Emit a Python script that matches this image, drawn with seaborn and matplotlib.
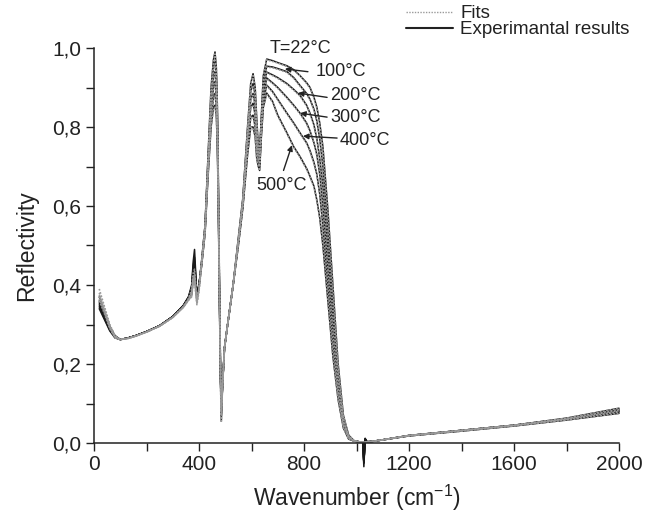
import matplotlib
matplotlib.use("Agg")
import matplotlib.pyplot as plt
import seaborn as sns
import numpy as np
from matplotlib.lines import Line2D
from matplotlib.ticker import MultipleLocator, FuncFormatter

# ---------------- data ----------------
wavenumber = [20, 40, 60, 80, 100, 130, 160, 200, 250, 300, 340, 360, 372, 378, 383, 392,
              400, 410, 423, 434, 446, 455, 461, 466, 470, 474, 478, 482, 485,
              490, 497, 507, 530, 550, 567, 585, 597, 606, 614, 620, 626, 631, 637, 645, 658,
              680, 700, 735, 761, 785, 810, 823, 838, 849, 860, 872, 891, 910, 930, 950, 970,
              990, 1010, 1024, 1028, 1033, 1040, 1060, 1100, 1200, 1400, 1600, 1800, 2000]

temperatures = ["22", "100", "200", "300", "400", "500"]

exp_22 = [0.37, 0.33, 0.295, 0.272, 0.262, 0.266, 0.272, 0.282, 0.297, 0.32, 0.348, 0.37, 0.40, 0.46, 0.49, 0.37,
          0.40, 0.46, 0.55, 0.72, 0.90, 0.97, 0.99, 0.95, 0.85, 0.65, 0.40, 0.18, 0.07,
          0.15, 0.24, 0.29, 0.40, 0.52, 0.62, 0.80, 0.91, 0.935, 0.90, 0.82, 0.75, 0.74, 0.82, 0.93, 0.972,
          0.968, 0.963, 0.955, 0.945, 0.93, 0.912, 0.90, 0.875, 0.85, 0.81, 0.75, 0.59, 0.40, 0.20, 0.07, 0.02,
          0.006, 0.003, 0.002, -0.06, 0.012, 0.003, 0.004, 0.008, 0.019, 0.032, 0.045, 0.063, 0.088]
exp_100 = [0.36, 0.325, 0.292, 0.27, 0.262, 0.266, 0.272, 0.282, 0.297, 0.32, 0.348, 0.37, 0.395, 0.45, 0.47, 0.375,
           0.40, 0.46, 0.55, 0.71, 0.88, 0.95, 0.965, 0.93, 0.83, 0.63, 0.39, 0.18, 0.075,
           0.15, 0.24, 0.29, 0.40, 0.515, 0.615, 0.79, 0.89, 0.91, 0.88, 0.80, 0.74, 0.73, 0.81, 0.91, 0.954,
           0.952, 0.948, 0.94, 0.925, 0.905, 0.885, 0.87, 0.845, 0.815, 0.77, 0.70, 0.54, 0.36, 0.18, 0.062, 0.018,
           0.006, 0.003, 0.002, -0.05, 0.01, 0.003, 0.004, 0.008, 0.019, 0.032, 0.045, 0.062, 0.085]
exp_200 = [0.355, 0.32, 0.29, 0.27, 0.262, 0.266, 0.272, 0.282, 0.297, 0.32, 0.347, 0.368, 0.39, 0.44, 0.46, 0.375,
           0.40, 0.455, 0.545, 0.70, 0.86, 0.925, 0.94, 0.905, 0.81, 0.62, 0.38, 0.17, 0.08,
           0.15, 0.24, 0.29, 0.40, 0.51, 0.61, 0.775, 0.87, 0.885, 0.855, 0.78, 0.73, 0.72, 0.80, 0.895, 0.939,
           0.932, 0.925, 0.91, 0.895, 0.88, 0.855, 0.835, 0.805, 0.77, 0.72, 0.65, 0.49, 0.32, 0.16, 0.055, 0.016,
           0.005, 0.003, 0.002, -0.05, 0.01, 0.003, 0.004, 0.008, 0.019, 0.032, 0.045, 0.061, 0.082]
exp_300 = [0.35, 0.318, 0.288, 0.268, 0.262, 0.266, 0.272, 0.282, 0.297, 0.32, 0.347, 0.367, 0.385, 0.435, 0.45, 0.37,
           0.40, 0.455, 0.54, 0.69, 0.84, 0.90, 0.915, 0.88, 0.79, 0.60, 0.37, 0.17, 0.085,
           0.15, 0.24, 0.29, 0.40, 0.51, 0.605, 0.76, 0.85, 0.86, 0.83, 0.76, 0.72, 0.71, 0.79, 0.88, 0.924,
           0.912, 0.90, 0.875, 0.855, 0.835, 0.81, 0.79, 0.76, 0.73, 0.68, 0.60, 0.44, 0.28, 0.14, 0.048, 0.014,
           0.005, 0.003, 0.002, -0.05, 0.01, 0.003, 0.004, 0.008, 0.019, 0.031, 0.044, 0.06, 0.08]
exp_400 = [0.345, 0.315, 0.286, 0.267, 0.262, 0.266, 0.272, 0.282, 0.297, 0.32, 0.346, 0.366, 0.38, 0.43, 0.44, 0.37,
           0.40, 0.45, 0.535, 0.68, 0.82, 0.875, 0.885, 0.855, 0.77, 0.59, 0.36, 0.16, 0.09,
           0.15, 0.24, 0.29, 0.40, 0.505, 0.60, 0.745, 0.825, 0.83, 0.80, 0.74, 0.71, 0.70, 0.78, 0.865, 0.906,
           0.89, 0.87, 0.835, 0.81, 0.785, 0.76, 0.74, 0.71, 0.68, 0.63, 0.55, 0.40, 0.25, 0.12, 0.043, 0.012,
           0.005, 0.003, 0.002, -0.05, 0.01, 0.003, 0.004, 0.008, 0.018, 0.031, 0.044, 0.059, 0.078]
exp_500 = [0.34, 0.312, 0.284, 0.266, 0.262, 0.266, 0.272, 0.282, 0.297, 0.32, 0.346, 0.365, 0.375, 0.42, 0.43, 0.365,
           0.395, 0.45, 0.53, 0.67, 0.80, 0.85, 0.855, 0.83, 0.75, 0.58, 0.35, 0.15, 0.055,
           0.15, 0.24, 0.29, 0.40, 0.50, 0.595, 0.73, 0.80, 0.80, 0.775, 0.72, 0.70, 0.69, 0.77, 0.85, 0.886,
           0.865, 0.83, 0.785, 0.75, 0.725, 0.695, 0.675, 0.65, 0.615, 0.57, 0.50, 0.36, 0.22, 0.11, 0.038, 0.01,
           0.005, 0.003, 0.002, -0.05, 0.01, 0.003, 0.004, 0.008, 0.018, 0.03, 0.043, 0.058, 0.075]

fit_22 = [0.39, 0.345, 0.30, 0.272, 0.262, 0.265, 0.271, 0.281, 0.296, 0.318, 0.345, 0.365, 0.39, 0.43, 0.44, 0.36,
          0.39, 0.46, 0.55, 0.72, 0.90, 0.965, 0.985, 0.95, 0.85, 0.65, 0.40, 0.18, 0.07,
          0.15, 0.24, 0.29, 0.40, 0.52, 0.62, 0.80, 0.91, 0.93, 0.90, 0.82, 0.75, 0.74, 0.82, 0.93, 0.97,
          0.966, 0.962, 0.953, 0.943, 0.93, 0.91, 0.898, 0.873, 0.848, 0.808, 0.75, 0.59, 0.40, 0.20, 0.07, 0.02,
          0.006, 0.003, 0.002, 0.002, 0.002, 0.003, 0.004, 0.008, 0.019, 0.032, 0.045, 0.063, 0.088]
fit_100 = [0.38, 0.34, 0.298, 0.27, 0.262, 0.265, 0.271, 0.281, 0.296, 0.318, 0.345, 0.365, 0.385, 0.425, 0.43, 0.36,
           0.39, 0.46, 0.55, 0.71, 0.88, 0.945, 0.96, 0.93, 0.83, 0.63, 0.39, 0.18, 0.075,
           0.15, 0.24, 0.29, 0.40, 0.515, 0.615, 0.79, 0.89, 0.905, 0.88, 0.80, 0.74, 0.73, 0.81, 0.91, 0.952,
           0.95, 0.946, 0.938, 0.923, 0.903, 0.883, 0.868, 0.843, 0.813, 0.77, 0.70, 0.54, 0.36, 0.18, 0.062, 0.018,
           0.006, 0.003, 0.002, 0.002, 0.002, 0.003, 0.004, 0.008, 0.019, 0.032, 0.045, 0.062, 0.085]
fit_200 = [0.375, 0.337, 0.296, 0.27, 0.262, 0.265, 0.271, 0.281, 0.296, 0.318, 0.344, 0.364, 0.38, 0.42, 0.425, 0.36,
           0.39, 0.455, 0.545, 0.70, 0.86, 0.92, 0.935, 0.905, 0.81, 0.62, 0.38, 0.17, 0.08,
           0.15, 0.24, 0.29, 0.40, 0.51, 0.61, 0.775, 0.87, 0.88, 0.855, 0.78, 0.73, 0.72, 0.80, 0.895, 0.937,
           0.93, 0.923, 0.908, 0.893, 0.878, 0.853, 0.833, 0.803, 0.768, 0.72, 0.65, 0.49, 0.32, 0.16, 0.055, 0.016,
           0.005, 0.003, 0.002, 0.002, 0.002, 0.003, 0.004, 0.008, 0.019, 0.032, 0.045, 0.061, 0.082]
fit_300 = [0.37, 0.334, 0.294, 0.268, 0.262, 0.265, 0.271, 0.281, 0.296, 0.318, 0.344, 0.363, 0.375, 0.415, 0.42, 0.355,
           0.39, 0.455, 0.54, 0.69, 0.84, 0.895, 0.91, 0.88, 0.79, 0.60, 0.37, 0.17, 0.085,
           0.15, 0.24, 0.29, 0.40, 0.51, 0.605, 0.76, 0.85, 0.855, 0.83, 0.76, 0.72, 0.71, 0.79, 0.88, 0.922,
           0.91, 0.898, 0.873, 0.853, 0.833, 0.808, 0.788, 0.758, 0.728, 0.68, 0.60, 0.44, 0.28, 0.14, 0.048, 0.014,
           0.005, 0.003, 0.002, 0.002, 0.002, 0.003, 0.004, 0.008, 0.019, 0.031, 0.044, 0.06, 0.08]
fit_400 = [0.365, 0.33, 0.292, 0.267, 0.262, 0.265, 0.271, 0.281, 0.296, 0.318, 0.343, 0.362, 0.372, 0.41, 0.415, 0.355,
           0.39, 0.45, 0.535, 0.68, 0.82, 0.87, 0.88, 0.855, 0.77, 0.59, 0.36, 0.16, 0.09,
           0.15, 0.24, 0.29, 0.40, 0.505, 0.60, 0.745, 0.825, 0.825, 0.80, 0.74, 0.71, 0.70, 0.78, 0.865, 0.904,
           0.888, 0.868, 0.833, 0.808, 0.783, 0.758, 0.738, 0.708, 0.678, 0.63, 0.55, 0.40, 0.25, 0.12, 0.043, 0.012,
           0.005, 0.003, 0.002, 0.002, 0.002, 0.003, 0.004, 0.008, 0.018, 0.031, 0.044, 0.059, 0.078]
fit_500 = [0.36, 0.327, 0.29, 0.266, 0.262, 0.265, 0.271, 0.281, 0.296, 0.318, 0.343, 0.361, 0.37, 0.405, 0.41, 0.35,
           0.385, 0.45, 0.53, 0.67, 0.80, 0.845, 0.85, 0.83, 0.75, 0.58, 0.35, 0.15, 0.055,
           0.15, 0.24, 0.29, 0.40, 0.50, 0.595, 0.73, 0.80, 0.795, 0.775, 0.72, 0.70, 0.69, 0.77, 0.85, 0.884,
           0.863, 0.828, 0.783, 0.748, 0.723, 0.693, 0.673, 0.648, 0.613, 0.57, 0.50, 0.36, 0.22, 0.11, 0.038, 0.01,
           0.005, 0.003, 0.002, 0.002, 0.002, 0.003, 0.004, 0.008, 0.018, 0.03, 0.043, 0.058, 0.075]

exp_series = [exp_22, exp_100, exp_200, exp_300, exp_400, exp_500]
fit_series = [fit_22, fit_100, fit_200, fit_300, fit_400, fit_500]

# annotation labels
label_texts = ["100°C", "200°C", "300°C", "400°C", "500°C"]
label_pos = [(940, 0.94), (995, 0.88), (997, 0.823), (1032, 0.767), (715, 0.653)]
arrow_from = [(815, 0.94), (888, 0.875), (888, 0.825), (926, 0.772), (722, 0.69)]
arrow_to = [(727, 0.947), (777, 0.886), (785, 0.835), (796, 0.777), (754, 0.754)]

x_ticks = [0, 400, 800, 1200, 1600, 2000]
y_ticks = [0.0, 0.2, 0.4, 0.6, 0.8, 1.0]

# ---------------- style ----------------
sns.set_style("ticks")
plt.rcParams["font.family"] = ["Liberation Sans", "DejaVu Sans"]
plt.rcParams["mathtext.fontset"] = "custom"
plt.rcParams["mathtext.rm"] = "Liberation Sans"
plt.rcParams["mathtext.it"] = "Liberation Sans:italic"
plt.rcParams["mathtext.bf"] = "Liberation Sans:bold"

fig = plt.figure(figsize=(6.56, 5.17), dpi=100)
ax = fig.add_axes([94 / 656, 74 / 517, 525 / 656, 395 / 517])

for vals in exp_series:
    sns.lineplot(x=wavenumber, y=vals, ax=ax, color="#1a1a1a", lw=1.1,
                 estimator=None, sort=False, clip_on=False, legend=False)
for vals in fit_series:
    sns.lineplot(x=wavenumber, y=vals, ax=ax, color="#9a9a9a", lw=1.2,
                 linestyle=(0, (1, 1)), estimator=None, sort=False, legend=False)

ax.set_xlim(0, 2000)
ax.set_ylim(0, 1.0)
ax.set_xticks(x_ticks)
ax.set_yticks(y_ticks)
ax.xaxis.set_minor_locator(MultipleLocator(200))
ax.yaxis.set_minor_locator(MultipleLocator(0.1))
ax.yaxis.set_major_formatter(FuncFormatter(lambda v, p: f"{v:.1f}".replace(".", ",")))
ax.xaxis.set_major_formatter(FuncFormatter(lambda v, p: f"{int(round(v))}"))
ax.tick_params(axis="both", which="major", direction="out", length=6, width=1.0,
               labelsize=15, color="#222222", labelcolor="#222222", pad=3)
ax.tick_params(axis="both", which="minor", direction="out", length=6, width=1.0, color="#222222")
for s in ["top", "right"]:
    ax.spines[s].set_visible(False)
for s in ["left", "bottom"]:
    ax.spines[s].set_linewidth(1.1)
    ax.spines[s].set_color("#222222")

ax.set_xlabel("Wavenumber (cm$^{-1}$)", fontsize=16.5, color="#222222", labelpad=6)
ax.set_ylabel("Reflectivity", fontsize=16.5, color="#222222", labelpad=10)

ax.text(785, 1.0, "T=22°C", fontsize=13, ha="center", va="center", color="#222222")
for txt, (tx, ty), (fx, fy), (px, py) in zip(label_texts, label_pos, arrow_from, arrow_to):
    ax.text(tx, ty, txt, fontsize=13, ha="center", va="center", color="#222222")
    ax.annotate("", xy=(px, py), xytext=(fx, fy),
                arrowprops=dict(arrowstyle="-|>", color="#222222", lw=1.0,
                                mutation_scale=8, shrinkA=0, shrinkB=0))

handles = [Line2D([], [], color="#9a9a9a", lw=1.0, linestyle=(0, (1, 1))),
           Line2D([], [], color="#222222", lw=1.5)]
fig.legend(handles, ["Fits", "Experimantal results"], loc="upper left",
           bbox_to_anchor=(406 / 656, 1 - 5 / 517), frameon=False, fontsize=13.5,
           handlelength=2.5, handletextpad=0.4, borderpad=0, borderaxespad=0,
           labelspacing=-0.05, labelcolor="#222222")

fig.savefig("out.png", dpi=100)
